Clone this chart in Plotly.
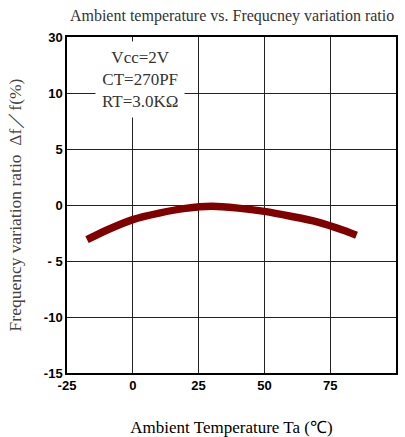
import plotly.graph_objects as go

temp = [-17.4, -10, 0, 10, 20, 30, 40, 50, 60, 70, 80, 85]
ratio = [-3.1, -2.25, -1.3, -0.72, -0.3, -0.12, -0.28, -0.57, -1.0, -1.5, -2.25, -2.7]

x_ticks = [-25, 0, 25, 50, 75, 100]
x_ticktext = ['-25', '0', '25', '50', '75', '100']
y_ticks = [15, 10, 5, 0, -5, -10, -15]
y_ticktext = ['30', '10', '5', '0', '- 5', '-10', '-15']

fig = go.Figure()
fig.add_trace(go.Scatter(x=temp, y=ratio, mode='lines',
                         line=dict(color='#800000', width=7.5, shape='spline', smoothing=0.8),
                         showlegend=False))

fig.add_annotation(x=2.7, y=11.2, xref='x', yref='y', showarrow=False,
                   text='Vcc=2V<br>CT=270PF<br>RT=3.0KΩ',
                   font=dict(family='Liberation Serif', size=17, color='#333'),
                   bgcolor='white', borderpad=6, align='center')

fig.update_layout(
    width=405, height=437,
    margin=dict(l=67, r=9, t=37, b=64),
    paper_bgcolor='white', plot_bgcolor='white',
    title=dict(text='Ambient temperature vs. Frequcney variation ratio',
               x=0.573, xanchor='center', y=0.965, yanchor='middle',
               font=dict(family='Liberation Serif', size=16, color='#333')),
    xaxis=dict(range=[-25, 100], tickvals=x_ticks, ticktext=x_ticktext,
               showgrid=True, gridcolor='#222', gridwidth=1,
               showline=True, linecolor='black', linewidth=1.5, mirror=True,
               ticks='', zeroline=False, automargin=False,
               tickfont=dict(family='Liberation Sans', size=13, color='black', weight='bold'),
               title=dict(text='Ambient Temperature Ta (℃)', standoff=30,
                          font=dict(family='Liberation Serif', size=17, color='black'))),
    yaxis=dict(range=[-15, 15], tickvals=y_ticks, ticktext=y_ticktext,
               showgrid=True, gridcolor='#222', gridwidth=1,
               showline=True, linecolor='black', linewidth=1.5, mirror=True,
               ticks='', zeroline=False, automargin=False,
               tickfont=dict(family='Liberation Sans', size=13, color='black', weight='bold'),
               title=dict(text='Frequency variation ratio  Δf／f(%)', standoff=18,
                          font=dict(family='Liberation Serif', size=17.5, color='#444'))),
)

fig.write_html('out.html')
